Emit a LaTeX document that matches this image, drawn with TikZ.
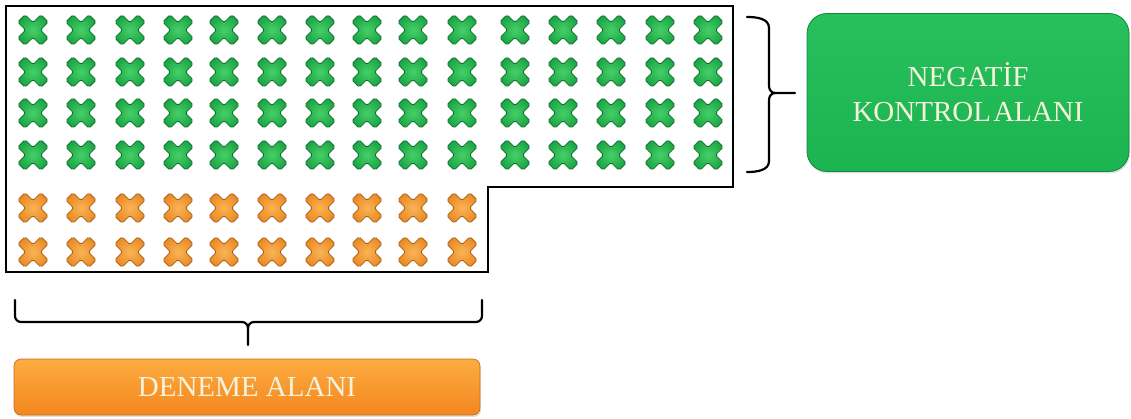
\documentclass[tikz,border=0pt]{standalone}
\usepackage{fontspec}
\setmainfont{Liberation Serif}
\usetikzlibrary{shadows}
\definecolor{gx}{RGB}{28,168,70}
\definecolor{gxd}{RGB}{15,110,45}
\definecolor{gxl}{RGB}{70,208,105}
\definecolor{ox}{RGB}{235,140,40}
\definecolor{oxd}{RGB}{170,95,20}
\definecolor{oxl}{RGB}{250,180,85}
\definecolor{gbox}{RGB}{28,180,80}
\definecolor{gboxl}{RGB}{40,192,92}
\definecolor{obox}{RGB}{243,135,30}
\definecolor{oboxl}{RGB}{252,172,65}
\definecolor{txt}{RGB}{246,242,220}
\tikzset{
  xmark/.pic={\path[pic actions, rounded corners=1.8pt, rotate=45]
    (5.2,5.2)--(5.2,16.4)--(-5.2,16.4)--(-5.2,5.2)--(-16.4,5.2)--(-16.4,-5.2)--(-5.2,-5.2)--(-5.2,-16.4)
    --(5.2,-16.4)--(5.2,-5.2)--(16.4,-5.2)--(16.4,5.2)--cycle;},
  gmark/.style={inner color=gxl, outer color=gx, draw=gxd, line width=0.8pt},
  omark/.style={inner color=oxl, outer color=ox, draw=oxd, line width=0.8pt},
  outline/.style={draw=black, line width=2.6pt, line join=miter},
  bracepath/.style={draw=black, line width=2.2pt, line cap=round},
  gboxstyle/.style={rectangle, rounded corners=20pt, top color=gboxl, bottom color=gbox,
    draw=gbox!75!black, line width=0.8pt, drop shadow={opacity=0.25, shadow xshift=1pt, shadow yshift=-2pt},
    text=txt, font=\fontsize{29}{35}\selectfont, align=center, inner sep=0pt},
  oboxstyle/.style={rectangle, rounded corners=7pt, top color=oboxl, bottom color=obox,
    draw=obox!80!black, line width=0.6pt, drop shadow={opacity=0.25, shadow xshift=1pt, shadow yshift=-2pt},
    text=txt, font=\fontsize{29}{33}\selectfont, inner sep=0pt},
}
\begin{document}
\begin{tikzpicture}[x=1pt, y=-1pt]
\useasboundingbox (0,0) rectangle (1131,419);
% outline
\draw[outline] (6,6) -- (733,6) -- (733,187) -- (488,187) -- (488,272) -- (6,272) -- cycle;
% green crosses
\foreach \cx [count=\i] in {33,81,130,178,224,272,320,367,413,462,515,563,611,660,708}{
  \foreach \cy [count=\j] in {30,72,113,155}{
    \pic[gmark] (g\i-\j) at (\cx,\cy) {xmark};
  }
}
% orange crosses
\foreach \cx [count=\i] in {33,81,130,178,224,272,320,367,413,462}{
  \foreach \cy [count=\j] in {208,252}{
    \pic[omark] (o\i-\j) at (\cx,\cy) {xmark};
  }
}
% boxes
\node[gboxstyle, minimum width=322pt, minimum height=158pt] (neg) at (968,92.5) {NEGATİF\\KONTROL\kern-5pt\ ALANI};
\node[oboxstyle, minimum width=466pt, minimum height=56pt] (den) at (247,387) {DENEME ALANI};
% right brace
\coordinate (rbt) at (747,17);
\coordinate (rbb) at (747,172);
\coordinate (rbm) at (795,93);
\draw[bracepath] (rbt) to[out=0,in=90] (769,28) -- (769,86) to[out=-90,in=180] (775,93) -- (rbm);
\draw[bracepath] (rbb) to[out=0,in=-90] (769,161) -- (769,100) to[out=90,in=180] (775,93);
% bottom brace
\coordinate (bbl) at (15,300);
\coordinate (bbr) at (482,300);
\coordinate (bbm) at (248,345);
\draw[bracepath] (bbl) -- (15,316) to[out=-90,in=180] (21,322) -- (242,322) to[out=0,in=90] (248,328) -- (bbm);
\draw[bracepath] (bbr) -- (482,316) to[out=-90,in=0] (476,322) -- (254,322) to[out=180,in=90] (248,328);
\end{tikzpicture}
\end{document}
